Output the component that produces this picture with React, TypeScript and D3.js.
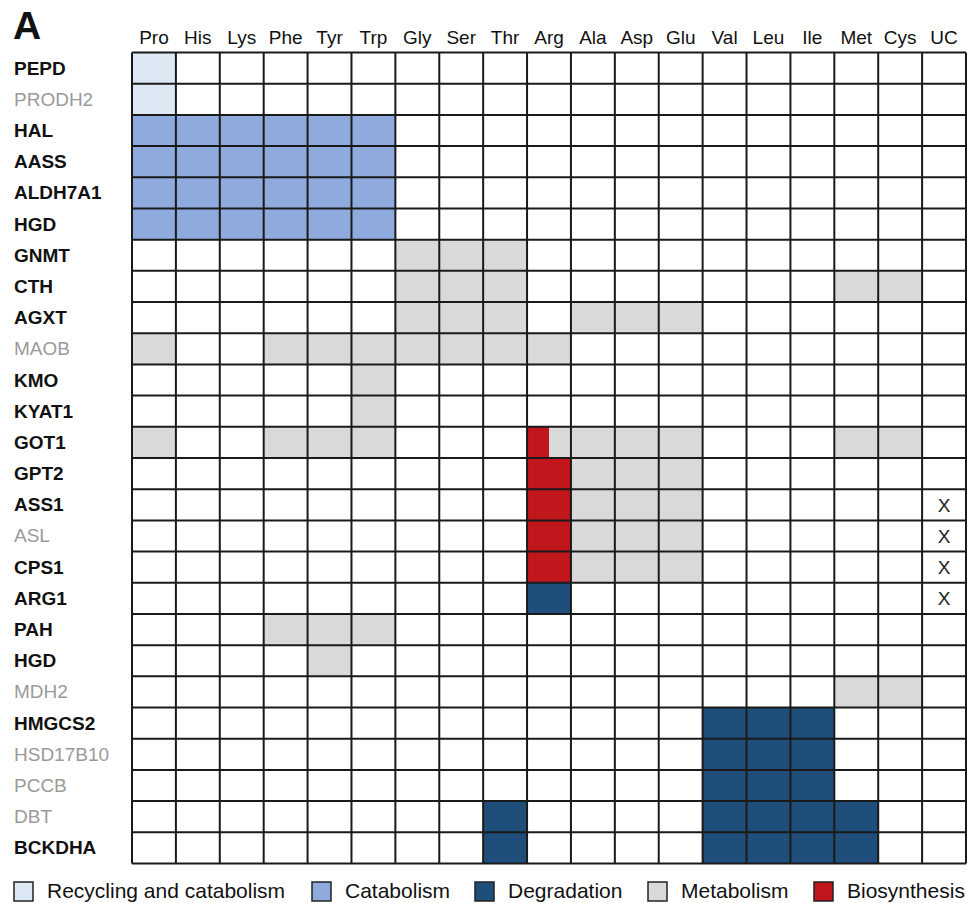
import React from "react";
import * as d3 from "d3";

const aminoAcids = ["Pro","His","Lys","Phe","Tyr","Trp","Gly","Ser","Thr","Arg","Ala","Asp","Glu","Val","Leu","Ile","Met","Cys","UC"];

const genes = ["PEPD","PRODH2","HAL","AASS","ALDH7A1","HGD","GNMT","CTH","AGXT","MAOB","KMO","KYAT1","GOT1","GPT2","ASS1","ASL","CPS1","ARG1","PAH","HGD","MDH2","HMGCS2","HSD17B10","PCCB","DBT","BCKDHA"];

// true = bold black label, false = grey regular label
const geneBold = [true,false,true,true,true,true,true,true,true,false,true,true,true,true,true,false,true,true,true,true,false,true,false,false,false,true];

// '.' none, R recycling, C catabolism, D degradation, M metabolism, B biosynthesis, S split (B|M), X mark
const cellCodes = [
  "R..................",
  "R..................",
  "CCCCCC.............",
  "CCCCCC.............",
  "CCCCCC.............",
  "CCCCCC.............",
  "......MMM..........",
  "......MMM.......MM.",
  "......MMM.MMM......",
  "M..MMMMMMM.........",
  ".....M.............",
  ".....M.............",
  "M..MMM...SMMM...MM.",
  ".........BMMM......",
  ".........BMMM.....X",
  ".........BMMM.....X",
  ".........BMMM.....X",
  ".........D........X",
  "...MMM.............",
  "....M..............",
  "................MM.",
  ".............DDD...",
  ".............DDD...",
  ".............DDD...",
  "........D....DDDD..",
  "........D....DDDD..",
];

const legendKeys = ["R","C","D","M","B"];
const legendLabels = ["Recycling and catabolism","Catabolism","Degradation","Metabolism","Biosynthesis"];

const colorOf: Record<string,string> = {
  R: "#dde8f5",
  C: "#8faadc",
  D: "#1f4e7a",
  M: "#d9d9d9",
  B: "#c1161c",
};

const W = 967, H = 903;
const gridLeft = 132, gridRight = 966, gridTop = 52.5, gridBottom = 863.5;
const legendX = [14, 312, 475, 648, 814];
const FONT = "'Liberation Sans', Arial, sans-serif";

export default function App() {
  const x = d3.scaleBand().domain(aminoAcids.map((_, i) => String(i))).range([gridLeft, gridRight]);
  const y = d3.scaleBand().domain(genes.map((_, i) => String(i))).range([gridTop, gridBottom]);
  const bw = x.bandwidth();
  const bh = y.bandwidth();

  const rects: React.ReactNode[] = [];
  const marks: React.ReactNode[] = [];
  cellCodes.forEach((row, ri) => {
    row.split("").forEach((c, ci) => {
      const cx = x(String(ci))!;
      const cy = y(String(ri))!;
      if (c === "S") {
        rects.push(<rect key={`b${ri}-${ci}`} x={cx} y={cy} width={bw / 2} height={bh} fill={colorOf.B} />);
        rects.push(<rect key={`m${ri}-${ci}`} x={cx + bw / 2} y={cy} width={bw / 2} height={bh} fill={colorOf.M} />);
      } else if (c === "X") {
        marks.push(
          <text key={`x${ri}-${ci}`} x={cx + bw / 2} y={cy + bh / 2 + 7} textAnchor="middle" fontSize={19} fontFamily={FONT} fill="#222">X</text>
        );
      } else if (colorOf[c]) {
        rects.push(<rect key={`c${ri}-${ci}`} x={cx} y={cy} width={bw} height={bh} fill={colorOf[c]} />);
      }
    });
  });

  const vLines = d3.range(aminoAcids.length + 1).map(i => gridLeft + i * bw);
  const hLines = d3.range(genes.length + 1).map(i => gridTop + i * bh);

  return (
    <svg width={W} height={H} style={{ position: "absolute", left: 0, top: 0, background: "#fff" }} fontFamily={FONT}>
      <rect x={0} y={0} width={W} height={H} fill="#fff" />
      <text x={13} y={39} fontSize={39} fontWeight="bold" fill="#111">A</text>
      {aminoAcids.map((a, i) => (
        <text key={a} x={x(String(i))! + bw / 2} y={44} textAnchor="middle" fontSize={19} fill="#111">{a}</text>
      ))}
      {genes.map((g, i) => (
        <text key={i} x={14} y={y(String(i))! + bh / 2 + 6.5} fontSize={19}
          fontWeight={geneBold[i] ? "bold" : "normal"} fill={geneBold[i] ? "#111" : "#9a9a9a"}>{g}</text>
      ))}
      {rects}
      {vLines.map((vx, i) => (
        <line key={`v${i}`} x1={vx} x2={vx} y1={gridTop} y2={gridBottom} stroke="#1a1a1a" strokeWidth={2} />
      ))}
      {hLines.map((hy, i) => (
        <line key={`h${i}`} x1={gridLeft} x2={gridRight} y1={hy} y2={hy} stroke="#1a1a1a" strokeWidth={2} />
      ))}
      {marks}
      {legendKeys.map((k, i) => (
        <g key={k}>
          <rect x={legendX[i]} y={882} width={19} height={19} fill={colorOf[k]} stroke="#222" strokeWidth={1.5} />
          <text x={legendX[i] + 33} y={898} fontSize={21} fill="#111">{legendLabels[i]}</text>
        </g>
      ))}
    </svg>
  );
}
